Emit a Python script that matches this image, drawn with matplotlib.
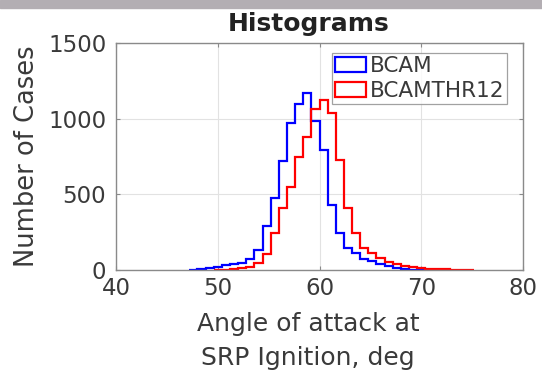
import numpy as np
import matplotlib.pyplot as plt
from matplotlib.patches import Rectangle

# Histogram settings (deg)
bin_width = 0.8
bcam_start = 47.2
thr12_start = 49.6

# Counts per bin, starting at the bin edges above
bcam_counts = [3, 8, 15, 22, 30, 38, 48, 73, 132, 288, 475, 720, 970, 1100,
               1170, 985, 793, 430, 243, 148, 115, 70, 58, 42, 24, 12, 6, 3, 1]
thr12_counts = [1, 3, 6, 12, 20, 46, 105, 245, 410, 551, 749, 880, 1065, 1124,
                1036, 727, 408, 242, 143, 110, 80, 55, 38, 25, 17, 12, 8, 6,
                4, 3, 2, 1]

series_labels = ["BCAM", "BCAMTHR12"]
x_ticks = [40, 50, 60, 70, 80]
y_ticks = [0, 500, 1000, 1500]

text_col = "#3a3a3a"
axis_col = "#8a8a8a"


def edges_for(start, counts):
    return start + bin_width * np.arange(len(counts) + 1)


fig = plt.figure(figsize=(5.42, 3.75), dpi=100)
ax = fig.add_axes([0.214, 0.28, 0.751, 0.605])

# gray strip along the top edge
fig.patches.append(Rectangle((0, 0.978), 1, 0.022, transform=fig.transFigure,
                             color="#b3aeb3", zorder=-1))

for start, counts, col, lab in [(bcam_start, bcam_counts, "#0000ff", series_labels[0]),
                                (thr12_start, thr12_counts, "#ff0000", series_labels[1])]:
    edges = edges_for(start, counts)
    centers = edges[:-1] + bin_width / 2
    ax.hist(centers, bins=edges, weights=counts, histtype="step",
            color=col, linewidth=1.6, label=lab)

ax.set_xlim(40, 80)
ax.set_ylim(0, 1500)
ax.set_xticks(x_ticks)
ax.set_yticks(y_ticks)
ax.grid(True, color="#e2e2e2", linewidth=0.8)
ax.set_axisbelow(True)

ax.tick_params(direction="in", length=3, width=0.8, colors=axis_col,
               labelcolor=text_col, labelsize=16.5, top=True, right=True)
ax.tick_params(axis="x", pad=5)
ax.tick_params(axis="y", pad=7)
for sp in ax.spines.values():
    sp.set_color(axis_col)
    sp.set_linewidth(1.0)

ax.set_title("Histograms", fontsize=18, fontweight="bold", color="#222222",
             pad=9, x=0.474)
ax.set_xlabel("Angle of attack at\nSRP Ignition, deg", fontsize=18,
              color=text_col, linespacing=1.55, va="top")
ax.xaxis.set_label_coords(0.472, -0.185)
ax.set_ylabel("Number of Cases", fontsize=18.5, color=text_col)
ax.yaxis.set_label_coords(-0.187, 0.5)

leg = ax.legend(loc="upper right", bbox_to_anchor=(0.961, 0.956), fontsize=15.5,
                frameon=True, fancybox=False, handlelength=1.45, handleheight=0.7,
                handletextpad=0.2, borderpad=0.12, borderaxespad=0,
                labelspacing=0.25)
leg.get_frame().set_edgecolor(axis_col)
leg.get_frame().set_linewidth(0.9)
for t in leg.get_texts():
    t.set_color(text_col)

fig.savefig("out.png", dpi=100)
